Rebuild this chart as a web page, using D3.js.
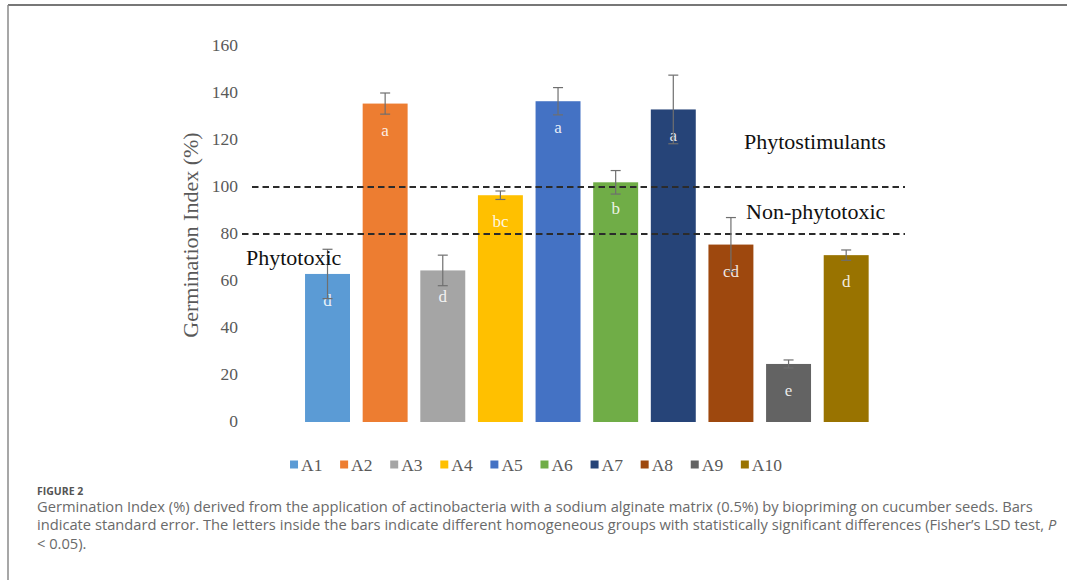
<!DOCTYPE html>
<html>
<head>
<meta charset="utf-8">
<script src="https://cdn.jsdelivr.net/npm/d3@7"></script>
<style>
  html, body { margin: 0; padding: 0; background: #fff; }
  svg { display: block; }
</style>
</head>
<body>
<svg id="chart" width="1067" height="580"></svg>
<script>
// Germination index per actinobacteria treatment
const categories = ["A1", "A2", "A3", "A4", "A5", "A6", "A7", "A8", "A9", "A10"];
const values     = [63, 135.5, 64.5, 96.5, 136.5, 102, 133, 75.5, 24.7, 71];
const stdErrors  = [10.5, 4.5, 6.5, 1.8, 5.8, 5, 14.6, 11.5, 1.7, 2.2];
const groups     = ["d", "a", "d", "bc", "a", "b", "a", "cd", "e", "d"];
const colors     = ["#5B9BD5", "#ED7D31", "#A5A5A5", "#FFC000", "#4472C4",
                    "#70AD47", "#264478", "#9E480E", "#636363", "#997300"];
const yTicks     = [0, 20, 40, 60, 80, 100, 120, 140, 160];
const thresholds = [100, 80];
const zoneLabels = ["Phytostimulants", "Non-phytotoxic", "Phytotoxic"];
const zoneValues = [116, 86.3, 66.8];

const captionTitle = "FIGURE 2";
const captionLines = [
  "Germination Index (%) derived from the application of actinobacteria with a sodium alginate matrix (0.5%) by biopriming on cucumber seeds. Bars",
  "indicate standard error. The letters inside the bars indicate different homogeneous groups with statistically significant differences (Fisher\u2019s LSD test, ",
  "< 0.05)."
];

const svg = d3.select("#chart");
const serif = "'Liberation Serif', 'Times New Roman', serif";
const sans = "'Open Sans', 'Noto Sans', sans-serif";

// page frame: top and left rules
svg.append("line").attr("x1", 8).attr("x2", 1067).attr("y1", 5).attr("y2", 5)
  .attr("stroke", "#4a4a4a").attr("stroke-width", 1.5);
svg.append("line").attr("x1", 8).attr("x2", 8).attr("y1", 5).attr("y2", 580)
  .attr("stroke", "#8a8a8a").attr("stroke-width", 1.5);

const x = d3.scaleBand().domain(categories).range([298.7, 875])
  .paddingInner(0.22).paddingOuter(0.11);
const y = d3.scaleLinear().domain([0, 160]).range([422, 46]);

// y axis tick labels (no axis line)
const yAxis = d3.axisLeft(y).tickValues(yTicks).tickSize(0).tickPadding(0);
const gy = svg.append("g").attr("transform", "translate(238,-1)").call(yAxis);
gy.select(".domain").remove();
gy.selectAll("text").attr("font-family", serif).attr("font-size", 17.5)
  .attr("fill", "#595959");

// y axis title
svg.append("text")
  .attr("transform", `translate(198,235) rotate(-90)`)
  .attr("text-anchor", "middle")
  .attr("font-family", serif).attr("font-size", 22).attr("fill", "#595959")
  .text("Germination Index (%)");

// bars
svg.append("g").selectAll("rect").data(categories).join("rect")
  .attr("x", d => x(d))
  .attr("y", (d, i) => y(values[i]))
  .attr("width", x.bandwidth())
  .attr("height", (d, i) => y(0) - y(values[i]))
  .attr("fill", (d, i) => colors[i]);

// group letters
svg.append("g").selectAll("text").data(categories).join("text")
  .attr("x", d => x(d) + x.bandwidth() / 2)
  .attr("y", (d, i) => y(values[i]) + 32)
  .attr("text-anchor", "middle")
  .attr("font-family", serif).attr("font-size", 17)
  .attr("fill", "#ffffff").attr("fill-opacity", 0.88)
  .text((d, i) => groups[i]);

// threshold lines
svg.append("g").selectAll("line").data(thresholds).join("line")
  .attr("x1", (d, i) => i === 0 ? 252 : 242)
  .attr("x2", 905)
  .attr("y1", d => y(d)).attr("y2", d => y(d))
  .attr("stroke", "#2b2b2b").attr("stroke-width", 2)
  .attr("stroke-dasharray", "6.5,4");

// standard error bars
const eb = svg.append("g").attr("stroke", "#6f6f6f").attr("stroke-width", 1.2);
categories.forEach((c, i) => {
  const cx = x(c) + x.bandwidth() / 2;
  const top = y(values[i] + stdErrors[i]);
  const bot = y(values[i] - stdErrors[i]);
  eb.append("line").attr("x1", cx).attr("x2", cx).attr("y1", top).attr("y2", bot);
  eb.append("line").attr("x1", cx - 5).attr("x2", cx + 5).attr("y1", top).attr("y2", top);
  eb.append("line").attr("x1", cx - 5).attr("x2", cx + 5).attr("y1", bot).attr("y2", bot);
});

// zone annotations
const zoneX = [744, 746, 246];
svg.append("g").selectAll("text").data(zoneLabels).join("text")
  .attr("x", (d, i) => zoneX[i])
  .attr("y", (d, i) => y(zoneValues[i]))
  .attr("font-family", serif).attr("font-size", 22).attr("fill", "#111")
  .text(d => d);

// legend
const legend = svg.append("g");
let lx = 0;
const items = [];
categories.forEach((c, i) => {
  const g = legend.append("g");
  g.append("rect").attr("x", 0).attr("y", -4.5).attr("width", 8).attr("height", 8)
    .attr("fill", colors[i]);
  const t = g.append("text").attr("x", 11).attr("y", 6)
    .attr("font-family", serif).attr("font-size", 17.5).attr("fill", "#595959")
    .text(c);
  items.push({ g, w: 11 + t.node().getComputedTextLength() });
});
const gap = 17.7;
items.forEach(it => { it.g.attr("transform", `translate(${lx},0)`); lx += it.w + gap; });
const legendW = lx - gap;
legend.attr("transform", `translate(${536 - legendW / 2},465)`);

// caption
svg.append("text").attr("x", 37).attr("y", 495)
  .attr("font-family", sans).attr("font-size", 10.5).attr("font-weight", 700)
  .attr("fill", "#555").text(captionTitle);
const cap = svg.append("g").attr("font-family", sans).attr("font-size", 14.7)
  .attr("fill", "#6a6a6a");
captionLines.forEach((line, i) => {
  const t = cap.append("text").attr("x", 37).attr("y", 512 + i * 18.3).text(line);
  if (i === 1) t.append("tspan").attr("font-style", "italic").text("P");
});
</script>
</body>
</html>
